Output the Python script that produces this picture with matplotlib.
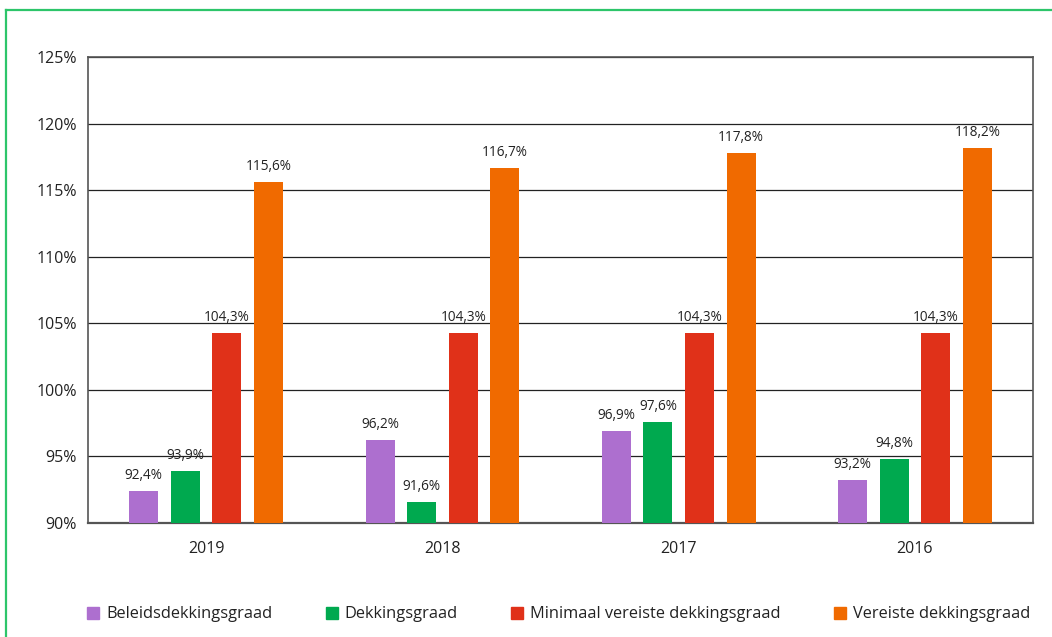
import matplotlib.pyplot as plt
import numpy as np
from matplotlib.lines import Line2D

plt.rcParams['font.family'] = ['Open Sans', 'DejaVu Sans']

years = ["2019", "2018", "2017", "2016"]
series_names = [
    "Beleidsdekkingsgraad",
    "Dekkingsgraad",
    "Minimaal vereiste dekkingsgraad",
    "Vereiste dekkingsgraad",
]
beleids = [92.4, 96.2, 96.9, 93.2]
dekking = [93.9, 91.6, 97.6, 94.8]
minimaal = [104.3, 104.3, 104.3, 104.3]
vereist = [115.6, 116.7, 117.8, 118.2]
colors = ["#AD6FCF", "#00A94F", "#E03119", "#F06A00"]

fig = plt.figure(figsize=(10.52, 6.37), dpi=100)
ax = fig.add_axes([0.0837, 0.179, 0.8983, 0.7315])

x = np.arange(len(years))
spacing = 0.176
width = 0.123
all_series = [beleids, dekking, minimaal, vereist]
for i, (vals, col) in enumerate(zip(all_series, colors)):
    pos = x + (i - 1.5) * spacing
    ax.bar(pos, np.array(vals) - 90, bottom=90, width=width, color=col, zorder=3)
    for p, v in zip(pos, vals):
        ax.text(p, v + 0.6, f"{v:.1f}%".replace(".", ","), ha="center", va="bottom",
                fontsize=9.8, color="#222222", zorder=4)

ax.set_xlim(-0.5, 3.5)
ax.set_ylim(90, 125)
ax.set_yticks(range(90, 126, 5))
ax.set_yticklabels([f"{t}%" for t in range(90, 126, 5)], fontsize=11.5, color="#222222")
ax.set_xticks(x)
ax.set_xticklabels(years, fontsize=11.5, color="#222222")
ax.tick_params(length=0, pad=8)
ax.tick_params(axis="x", pad=13)
ax.yaxis.grid(True, color="#222222", linewidth=0.9, zorder=0)
for s in ax.spines.values():
    s.set_color("#555555")
    s.set_linewidth(1.2)
ax.spines["bottom"].set_linewidth(1.6)

handles = [Line2D([], [], marker="s", linestyle="none", markersize=9, color=c) for c in colors]
fig.legend(handles, series_names, loc="lower center", bbox_to_anchor=(0.530, 0.0),
           ncol=4, frameon=False, fontsize=11.8, handletextpad=0.3, columnspacing=3.1,
           handlelength=1.0, labelcolor="#222222")

# green frame (top and left edges visible)
fig.add_artist(Line2D([6 / 1052, 6 / 1052], [0, 1 - 10 / 637], transform=fig.transFigure,
                      color="#2DC56A", linewidth=1.6))
fig.add_artist(Line2D([6 / 1052, 1], [1 - 10 / 637, 1 - 10 / 637], transform=fig.transFigure,
                      color="#2DC56A", linewidth=1.6))

fig.savefig("out.png", dpi=100)
